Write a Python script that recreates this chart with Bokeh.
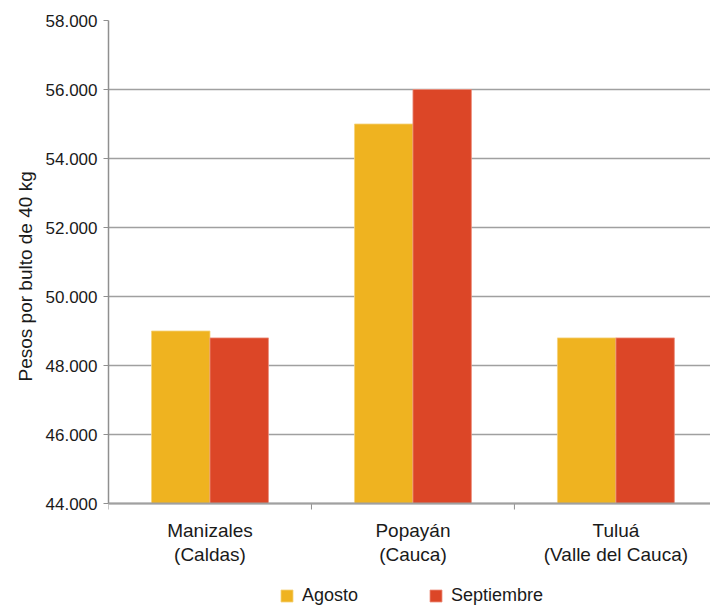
import math
from bokeh.plotting import figure
from bokeh.models import (ColumnDataSource, Range1d, FixedTicker, Legend, LegendItem, Title, Span)
from bokeh.core.properties import value
from bokeh.transform import dodge
from bokeh.embed import file_html
from bokeh.resources import INLINE

# ---- data ----
categories = ["Manizales\n(Caldas)", "Popayán\n(Cauca)", "Tuluá\n(Valle del Cauca)"]
agosto = [49000, 55000, 48800]
septiembre = [48800, 56000, 48800]
series_names = ["Agosto", "Septiembre"]
y_ticks = [44000, 46000, 48000, 50000, 52000, 54000, 56000, 58000]
y_tick_labels = ["44.000", "46.000", "48.000", "50.000", "52.000", "54.000", "56.000", "58.000"]

AG_COLOR = "#EFB320"
SE_COLOR = "#DC4627"
FONT = "Liberation Sans"
GRAY = "#a0a0a0"

y_min, y_max = y_ticks[0], y_ticks[-1]
centers = [i + 0.5 for i in range(len(categories))]
bounds = list(range(len(categories)))
source = ColumnDataSource(dict(x=centers, agosto=agosto, septiembre=septiembre,
                               label=categories, base=[y_min] * len(categories)))
bsource = ColumnDataSource(dict(x=bounds, y=[y_min] * len(bounds)))

# layout: axis area 483px tall at top 20, frame extends to page bottom (legend inside)
TOP, AXIS_PX, H = 20, 483, 606
frame_px = H - TOP
y_start = y_max - frame_px * (y_max - y_min) / AXIS_PX

p = figure(width=710, height=H, output_backend="svg", toolbar_location=None,
           x_range=Range1d(0, 2.966), y_range=Range1d(y_start, y_max),
           x_axis_location=None,
           min_border_left=108, min_border_right=0, min_border_top=TOP,
           min_border_bottom=0)
p.outline_line_color = None
p.background_fill_color = "white"
p.border_fill_color = "white"

bw = 0.288
r1 = p.vbar(x=dodge("x", -bw / 2, range=p.x_range), top="agosto", bottom="base", width=bw,
            source=source, fill_color=AG_COLOR, line_color="#F5D27A", line_width=0.8)
r2 = p.vbar(x=dodge("x", bw / 2, range=p.x_range), top="septiembre", bottom="base", width=bw,
            source=source, fill_color=SE_COLOR, line_color="#EC8F7E", line_width=0.8)

# y axis
p.yaxis.ticker = FixedTicker(ticks=y_ticks)
p.yaxis.bounds = (y_min, y_max)
p.yaxis.major_label_overrides = {t: l for t, l in zip(y_ticks, y_tick_labels)}
p.yaxis.minor_tick_line_color = None
p.yaxis.major_tick_in = 0
p.yaxis.major_tick_out = 5
p.yaxis.major_tick_line_color = "#8f8f8f"
p.yaxis.axis_line_color = "#8f8f8f"
p.yaxis.axis_line_width = 1.5
p.yaxis.major_label_text_font = FONT
p.yaxis.major_label_text_font_size = "17px"
p.yaxis.major_label_text_color = "#1a1a1a"
p.yaxis.major_label_standoff = 6

ytitle = Title(text="Pesos por bulto de 40 kg", align="left", offset=225,
               text_font=FONT, text_font_size="19px", text_font_style="normal",
               text_color="#1a1a1a", standoff=14)
p.add_layout(ytitle, "left")

# x axis drawn at the baseline value
p.add_layout(Span(location=y_min, dimension="width", line_color=GRAY, line_width=2))
p.ray(x="x", y="y", length=6, length_units="screen", angle=-math.pi / 2,
      source=bsource, line_color="#8f8f8f", line_width=1)
p.text(x="x", y="base", text="label", source=source, y_offset=16,
       text_align="center", text_baseline="top", text_font=value(FONT),
       text_font_size="19px", text_color="#1a1a1a", text_line_height=1.15)

# grid
p.xgrid.grid_line_color = None
p.ygrid.ticker = FixedTicker(ticks=y_ticks)
p.ygrid.grid_line_color = GRAY
p.ygrid.grid_line_width = 1.5

legend = Legend(items=[LegendItem(label=series_names[0], renderers=[r1]),
                       LegendItem(label=series_names[1], renderers=[r2])],
                location=(171, 0), orientation="horizontal")
legend.border_line_color = None
legend.background_fill_alpha = 0
legend.padding = 0
legend.margin = 0
legend.spacing = 70
legend.glyph_width = 15
legend.glyph_height = 15
legend.label_standoff = 8
legend.label_height = 15
legend.label_text_font = FONT
legend.label_text_font_size = "18px"
legend.label_text_color = "#1a1a1a"
p.add_layout(legend, "center")

open("out.html", "w").write(file_html(p, INLINE))
